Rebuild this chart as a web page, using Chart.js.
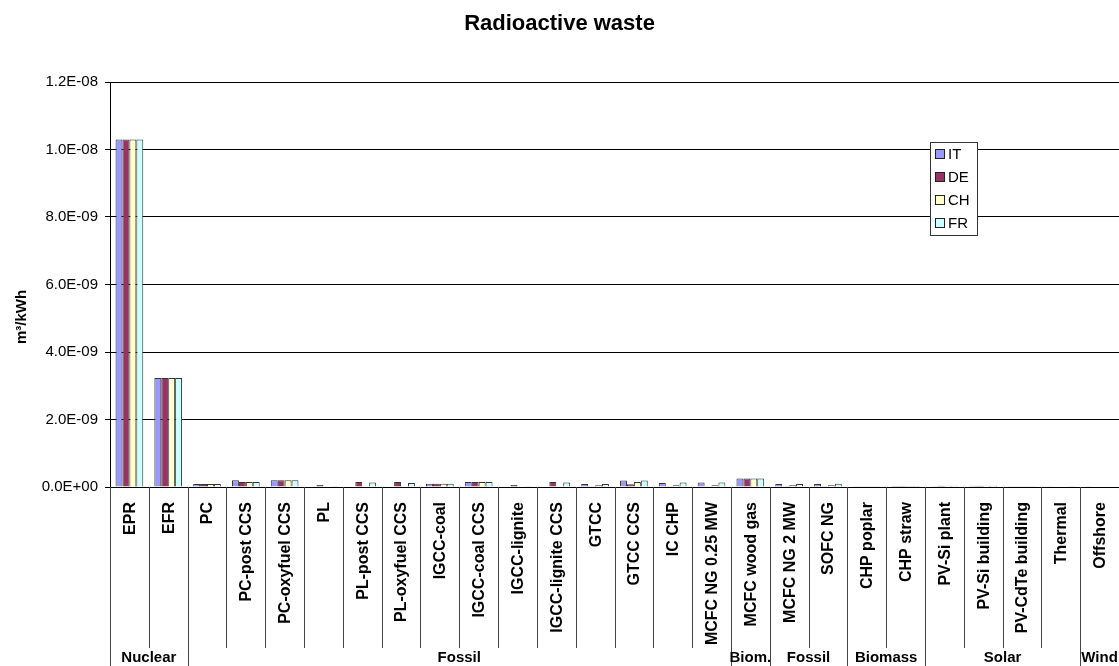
<!DOCTYPE html>
<html>
<head>
<meta charset="utf-8">
<script src="https://cdn.jsdelivr.net/npm/chart.js@4.4.1/dist/chart.umd.min.js"></script>
<style>
    html, body { margin: 0; padding: 0; background: #fff; }
    canvas { display: block; }
</style>
</head>
<body>
<canvas id="wasteChart" width="1119" height="666"></canvas>
<script>
const categories = ["EPR", "EFR", "PC", "PC-post CCS", "PC-oxyfuel CCS", "PL", "PL-post CCS", "PL-oxyfuel CCS",
    "IGCC-coal", "IGCC-coal CCS", "IGCC-lignite", "IGCC-lignite CCS", "GTCC", "GTCC CCS", "IC CHP",
    "MCFC NG 0.25 MW", "MCFC wood gas", "MCFC NG 2 MW", "SOFC NG", "CHP poplar", "CHP straw",
    "PV-Si plant", "PV-Si building", "PV-CdTe building", "Thermal", "Offshore"];

const groupNames = ["Nuclear", "Fossil", "Biom.", "Fossil", "Biomass", "Solar", "Wind"];
const groupSizes = [2, 14, 1, 2, 2, 4, 1];

const valuesIT = [1.03e-8, 3.23e-9, 9e-11, 2e-10, 2e-10, 0, 0, 0, 1e-10, 1.5e-10, 0, 0, 9e-11, 1.9e-10, 1.2e-10,
    1.3e-10, 2.5e-10, 9e-11, 9e-11, 2e-11, 3e-12, 2e-11, 4e-11, 2e-11, 2e-11, 2e-11];
const valuesDE = [1.03e-8, 3.23e-9, 9e-11, 1.5e-10, 2e-10, 6e-11, 1.5e-10, 1.5e-10, 1e-10, 1.5e-10, 6e-11, 1.5e-10, 5e-12, 8e-11, 1e-11,
    1e-11, 2.5e-10, 1e-11, 1e-11, 2e-11, 3e-12, 4e-11, 4e-11, 2e-11, 0, 0];
const valuesCH = [1.03e-8, 3.23e-9, 9e-11, 1.5e-10, 2e-10, 0, 0, 0, 1e-10, 1.5e-10, 0, 0, 5e-11, 1.5e-10, 5e-11,
    5e-11, 2.5e-10, 5e-11, 5e-11, 2e-11, 3e-12, 4e-11, 4e-11, 2e-11, 0, 0];
const valuesFR = [1.03e-8, 3.23e-9, 9e-11, 1.5e-10, 2e-10, 2e-11, 1.3e-10, 1.2e-10, 1e-10, 1.5e-10, 2e-11, 1.3e-10, 9e-11, 1.9e-10, 1.3e-10,
    1.3e-10, 2.5e-10, 9e-11, 1e-10, 2e-11, 3e-12, 4e-11, 4e-11, 2e-11, 2e-11, 0];

const yTickLabels = ["0.0E+00", "2.0E-09", "4.0E-09", "6.0E-09", "8.0E-09", "1.0E-08", "1.2E-08"];

const FONT = "'Liberation Sans', Arial, sans-serif";

// x axis table: category cells, group cells, y title and legend box
const tablePlugin = {
    id: "tablePlugin",
    afterDraw(chart) {
        const ctx = chart.ctx;
        const x = chart.scales.x;
        const area = chart.chartArea;
        const half = (x.getPixelForValue(1) - x.getPixelForValue(0)) / 2;
        const bottom = chart.height;

        ctx.save();
        ctx.strokeStyle = "#444";
        ctx.lineWidth = 1;

        // group boundaries
        const groupEdges = [0];
        groupSizes.forEach(n => groupEdges.push(groupEdges[groupEdges.length - 1] + n));

        for (let i = 0; i <= categories.length; i++) {
            const px = Math.round(x.getPixelForValue(i) - half) + 0.5;
            const isGroupEdge = groupEdges.includes(i);
            ctx.beginPath();
            ctx.moveTo(px, area.bottom);
            ctx.lineTo(px, isGroupEdge ? bottom : area.bottom + 161);
            ctx.stroke();
        }

        // category labels
        ctx.fillStyle = "#000";
        ctx.font = "bold 16px " + FONT;
        ctx.textAlign = "right";
        ctx.textBaseline = "middle";
        categories.forEach((label, i) => {
            ctx.save();
            ctx.translate(x.getPixelForValue(i) + 1, area.bottom + 15);
            ctx.rotate(-Math.PI / 2);
            ctx.fillText(label, 0, 0);
            ctx.restore();
        });

        // group labels
        ctx.font = "bold 15px " + FONT;
        ctx.textAlign = "center";
        groupNames.forEach((name, g) => {
            const left = x.getPixelForValue(groupEdges[g]) - half;
            const right = x.getPixelForValue(groupEdges[g + 1]) - half;
            ctx.fillText(name, (left + right) / 2, 658);
        });

        // y axis title
        ctx.save();
        ctx.translate(22, 317);
        ctx.rotate(-Math.PI / 2);
        ctx.fillText("m³/kWh", 0, 0);
        ctx.restore();

        // legend
        const lx = 930, ly = 142;
        ctx.fillStyle = "#fff";
        ctx.fillRect(lx, ly, 47, 93);
        ctx.strokeStyle = "#333";
        ctx.strokeRect(lx + 0.5, ly + 0.5, 47, 93);
        ctx.font = "15px " + FONT;
        ctx.textAlign = "left";
        chart.data.datasets.forEach((ds, i) => {
            const cy = ly + 12 + i * 23;
            ctx.fillStyle = ds.backgroundColor;
            ctx.fillRect(lx + 5.5, cy - 4.5, 9, 9);
            ctx.strokeStyle = "#222";
            ctx.strokeRect(lx + 5.5, cy - 4.5, 9, 9);
            ctx.fillStyle = "#000";
            ctx.fillText(ds.label, lx + 18, cy + 1);
        });
        ctx.restore();
    }
};

function makeDataset(label, data, color) {
    return {
        label: label,
        data: data,
        backgroundColor: color,
        borderColor: "#333",
        borderWidth: 1,
        categoryPercentage: 0.714,
        barPercentage: 1.0
    };
}

const chart = new Chart(document.getElementById("wasteChart").getContext("2d"), {
    type: "bar",
    data: {
        labels: categories,
        datasets: [
            makeDataset("IT", valuesIT, "#9999FF"),
            makeDataset("DE", valuesDE, "#993366"),
            makeDataset("CH", valuesCH, "#FFFFCC"),
            makeDataset("FR", valuesFR, "#CCFFFF")
        ]
    },
    options: {
        responsive: false,
        animation: false,
        layout: { padding: { left: 0, right: 0, top: 0, bottom: 0 } },
        plugins: {
            legend: { display: false },
            tooltip: { enabled: false },
            title: {
                display: true,
                text: "Radioactive waste",
                color: "#000",
                font: { family: FONT, size: 22, weight: "bold" },
                padding: { top: 11, bottom: 44.6 }
            }
        },
        scales: {
            x: {
                grid: { display: false },
                border: { display: true, color: "#000" },
                ticks: { display: false },
                afterFit: (scale) => { scale.height = 179; }
            },
            y: {
                min: 0,
                max: 1.2e-8,
                grid: { color: "#000", lineWidth: 1, tickLength: 5 },
                border: { display: true, color: "#000" },
                ticks: {
                    stepSize: 2e-9,
                    padding: 7,
                    color: "#000",
                    font: { family: FONT, size: 15 },
                    callback: (value, index) => yTickLabels[index]
                },
                afterFit: (scale) => { scale.width = 110; }
            }
        }
    },
    plugins: [tablePlugin]
});
</script>
</body>
</html>
